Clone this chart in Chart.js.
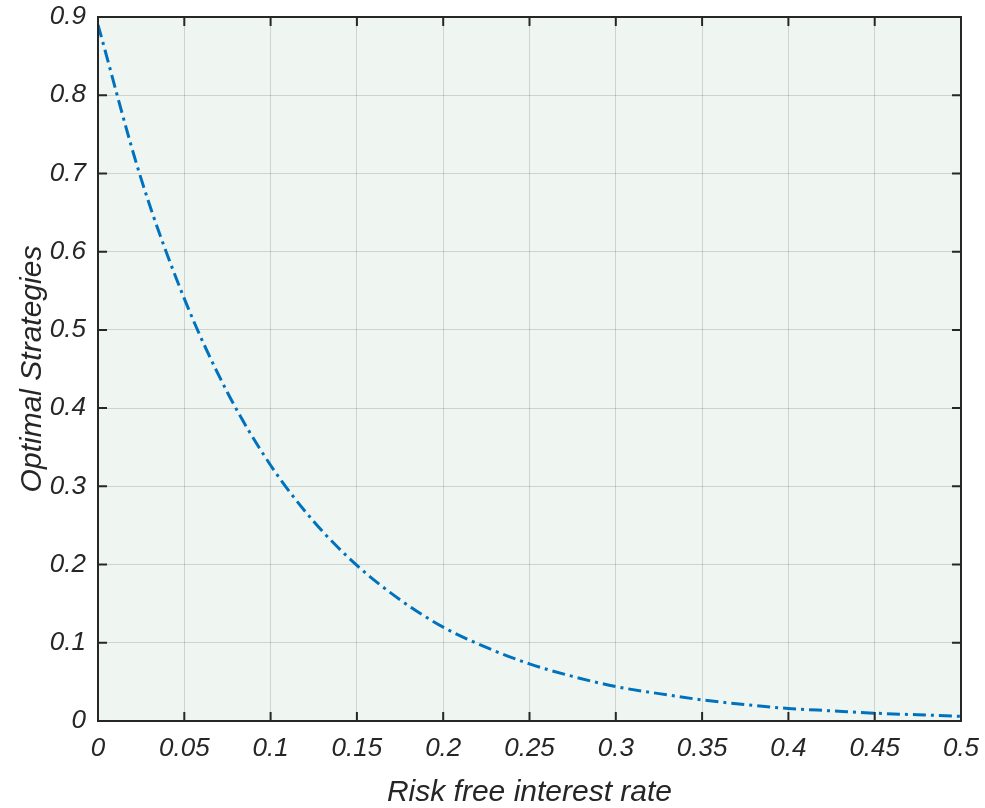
<!DOCTYPE html>
<html lang="en">
<head>
  <meta charset="UTF-8">
  <title>Optimal Strategies</title>
  <style>
    html, body { margin: 0; padding: 0; background: #fff; }
    .chartBox { position: relative; width: 985px; height: 808px; }
  </style>
</head>
<body>
  <div class="chartBox">
    <canvas id="myChart"></canvas>
  </div>

<script src="https://cdn.jsdelivr.net/npm/chart.js/dist/chart.umd.min.js"></script>
<script>
  // values
  const rates = [0, 0.025, 0.05, 0.075, 0.1, 0.125, 0.15, 0.175, 0.2, 0.225, 0.25,
                 0.275, 0.3, 0.325, 0.35, 0.375, 0.4, 0.425, 0.45, 0.475, 0.5];
  const strategies = [0.89, 0.693, 0.54, 0.42, 0.327, 0.255, 0.199, 0.155, 0.12, 0.094, 0.073,
                      0.057, 0.044, 0.035, 0.027, 0.021, 0.016, 0.013, 0.010, 0.008, 0.006];
  const xTicks = [0, 0.05, 0.1, 0.15, 0.2, 0.25, 0.3, 0.35, 0.4, 0.45, 0.5];
  const yTicks = [0, 0.1, 0.2, 0.3, 0.4, 0.5, 0.6, 0.7, 0.8, 0.9];

  const fontFamily = '"Liberation Sans", Arial, sans-serif';
  const axisColor = '#262626';

  // plot background, box and inward tick marks
  const boxPlugin = {
    id: 'box',
    beforeDraw(chart) {
      const { ctx, chartArea: a } = chart;
      ctx.save();
      ctx.fillStyle = '#eff6f2';
      ctx.fillRect(a.left, a.top, a.right - a.left, a.bottom - a.top);
      ctx.restore();
    },
    afterDraw(chart) {
      const { ctx, chartArea: a, scales } = chart;
      const len = 9;
      ctx.save();
      ctx.strokeStyle = axisColor;
      ctx.lineWidth = 2;
      ctx.beginPath();
      xTicks.forEach(v => {
        const px = scales.x.getPixelForValue(v);
        ctx.moveTo(px, a.bottom); ctx.lineTo(px, a.bottom - len);
        ctx.moveTo(px, a.top); ctx.lineTo(px, a.top + len);
      });
      yTicks.forEach(v => {
        const py = scales.y.getPixelForValue(v);
        ctx.moveTo(a.left, py); ctx.lineTo(a.left + len, py);
        ctx.moveTo(a.right, py); ctx.lineTo(a.right - len, py);
      });
      ctx.stroke();
      ctx.strokeRect(a.left, a.top, a.right - a.left, a.bottom - a.top);
      ctx.restore();
    }
  };

  const fmt = v => String(Number(v.toFixed(2)));

  const config = {
    type: 'line',
    data: {
      datasets: [{
        data: rates.map((r, i) => ({ x: r, y: strategies[i] })),
        borderColor: '#0072bd',
        borderWidth: 3,
        borderDash: [13, 5, 3, 5],
        pointRadius: 0,
        cubicInterpolationMode: 'monotone',
        fill: false
      }]
    },
    options: {
      responsive: true,
      maintainAspectRatio: false,
      animation: false,
      layout: { padding: { left: 0, right: 24, top: 17, bottom: 0 } },
      scales: {
        x: {
          type: 'linear',
          min: 0, max: 0.5,
          afterBuildTicks: s => { s.ticks = xTicks.map(v => ({ value: v })); },
          afterFit: s => { s.height = 87; s.paddingLeft = 0; s.paddingRight = 0; },
          grid: { color: 'rgba(0,0,0,0.14)', lineWidth: 1, drawTicks: false },
          border: { display: false },
          ticks: {
            callback: fmt, padding: 12, maxRotation: 0, autoSkip: false,
            color: axisColor, font: { family: fontFamily, size: 26, style: 'italic' }
          },
          title: {
            display: true, text: 'Risk free interest rate', color: axisColor,
            padding: 0,
            font: { family: fontFamily, size: 30, style: 'italic', lineHeight: 1 }
          }
        },
        y: {
          min: 0, max: 0.9,
          afterBuildTicks: s => { s.ticks = yTicks.map(v => ({ value: v })); },
          afterFit: s => { s.width = 98; s.paddingTop = 0; s.paddingBottom = 0; },
          grid: { color: 'rgba(0,0,0,0.14)', lineWidth: 1, drawTicks: false },
          border: { display: false },
          ticks: {
            callback: fmt, padding: 12, autoSkip: false,
            color: axisColor, font: { family: fontFamily, size: 26, style: 'italic' }
          },
          title: {
            display: true, text: 'Optimal Strategies', color: axisColor,
            padding: 18,
            font: { family: fontFamily, size: 30, style: 'italic', lineHeight: 1 }
          }
        }
      },
      plugins: {
        legend: { display: false },
        tooltip: { enabled: false }
      }
    },
    plugins: [boxPlugin]
  };

  const myChart = new Chart(document.getElementById('myChart'), config);
</script>
</body>
</html>
